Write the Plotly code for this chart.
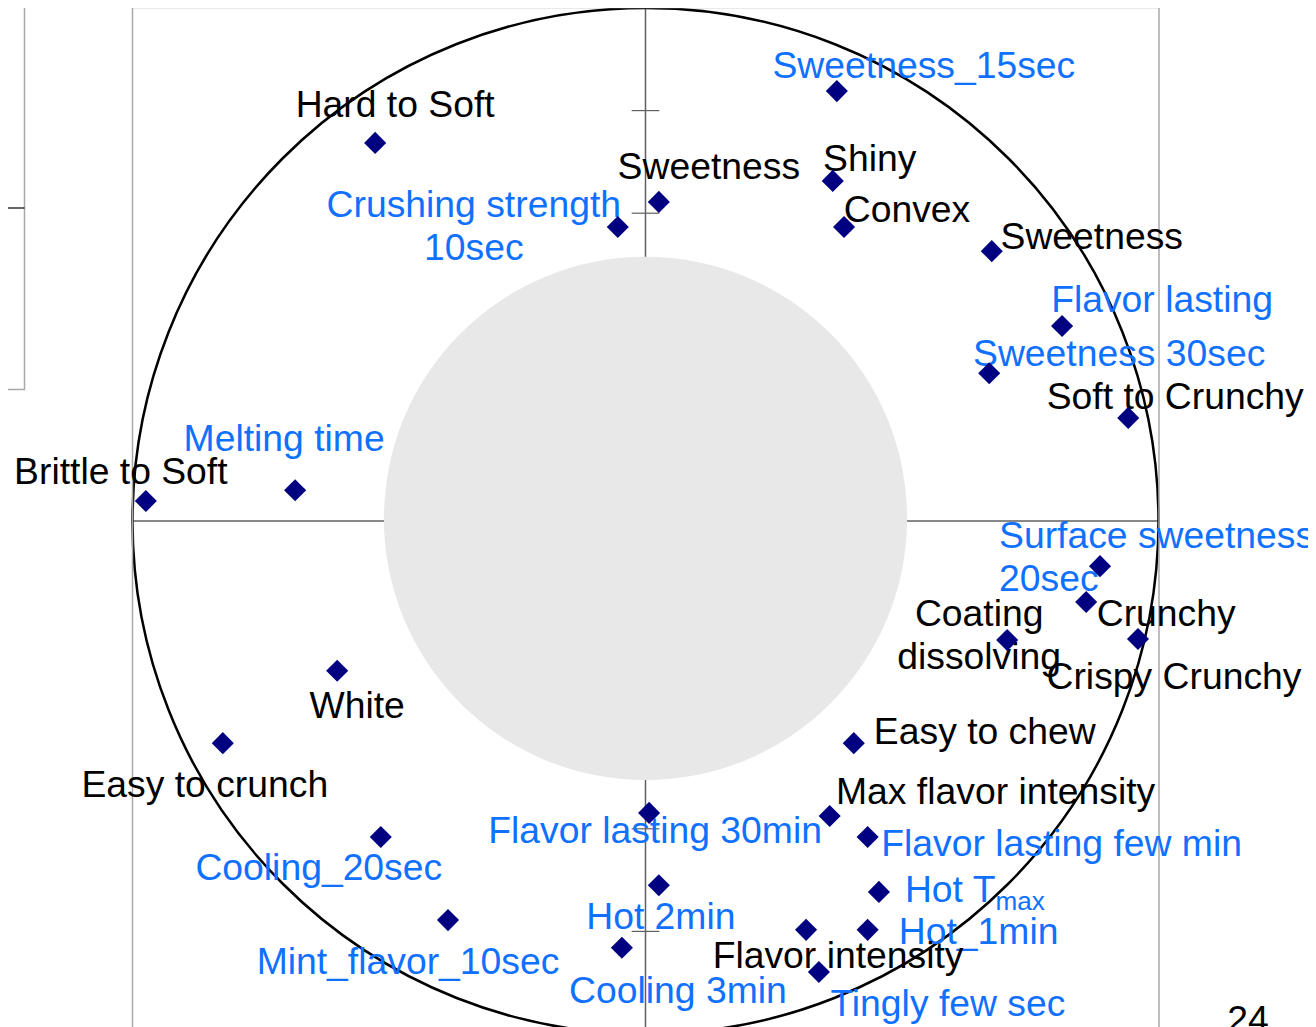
import plotly.graph_objects as go

# ---------------- data ----------------
labels = [
    "Sweetness_15sec", "Hard to Soft", "Sweetness", "Shiny", "Convex",
    "Crushing strength<br>10sec", "Sweetness", "Flavor lasting", "Sweetness 30sec",
    "Soft to Crunchy", "Melting time", "Brittle to Soft", "Surface sweetness<br>20sec",
    "Crunchy", "Coating<br>dissolving", "Crispy Crunchy", "White", "Easy to chew",
    "Easy to crunch", "Max flavor intensity", "Flavor lasting 30min",
    "Flavor lasting few min", "Cooling_20sec", "Hot T<sub>max</sub>", "Hot 2min",
    "Mint_flavor_10sec", "Hot_1min", "Flavor intensity", "Cooling 3min", "Tingly few sec",
]
dim1 = [0.373, -0.527, 0.026, 0.365, 0.387, -0.054, 0.675, 0.812, 0.670, 0.941,
        -0.683, -0.974, 0.886, 0.859, 0.705, 0.960, -0.601, 0.406, -0.824, 0.359,
        0.007, 0.433, -0.516, 0.455, 0.026, -0.385, 0.433, 0.313, -0.046, 0.338]
dim2 = [0.838, 0.737, 0.622, 0.663, 0.573, 0.573, 0.526, 0.380, 0.288, 0.201,
        0.060, 0.039, -0.088, -0.158, -0.232, -0.230, -0.292, -0.433, -0.433, -0.575,
        -0.569, -0.616, -0.616, -0.723, -0.710, -0.778, -0.797, -0.797, -0.832, -0.879]
# group: 1 = time-intensity attribute (blue), 0 = descriptive attribute (black)
group = [1, 0, 0, 0, 0, 1, 0, 1, 1, 0, 1, 0, 1, 0, 0, 0, 0, 0, 0, 0,
         1, 1, 1, 1, 1, 1, 1, 0, 1, 1]
y_ticks = [-0.8, -0.6, 0.6, 0.8]
page_number = "24"

# ---------------- styling / label placement (pixels) ----------------
PX = 513.0      # pixels per unit
BODY = 8        # default page margin of the html body
FIG_W, FIG_H = 1316 - BODY, 1027 - BODY
CX, CY = 645.5, 521.0   # page pixel of the origin

label_dx = [87, 20, 50, 37, 63, -144, 100, 100, 130, 47, -11, -25, -101, 80, -28, 36, 20, 131,
            -18, 166, 6, 194, -62, 26, 2, -40, 111, 32, 56, 129]
label_dy = [-26, -39, -36, -23, -18, -1, -15, -27, -20, -22, -52, -30, -9.5, 11, -5.5, 37, 34, -12,
            41, -25, 17, 6, 30, -3, 31, 41, 1, 25, 42, 31]
DY_FIX = 3.5
LINE_GAP = 43.0
left_anchored = {12, 23}

BLUE = "#1070ff"
NAVY = "#000080"
FONT = "Liberation Sans, Arial, sans-serif"
FS = 37.3

# split multi-line labels into single lines with the reference line spacing
tx, ty, ttext, tpos, tcol = [], [], [], [], []
for i, lab in enumerate(labels):
    lines = lab.split("<br>")
    n = len(lines)
    for k, line in enumerate(lines):
        off = (k - (n - 1) / 2) * LINE_GAP
        tx.append(dim1[i] + label_dx[i] / PX)
        ty.append(dim2[i] - (label_dy[i] + DY_FIX + off) / PX)
        ttext.append(line)
        tpos.append("middle right" if i in left_anchored else "middle center")
        tcol.append(BLUE if group[i] else "black")


def px2x(p):
    return (p - CX) / PX


def px2y(p):
    return (CY - p) / PX


x_range = [px2x(BODY), px2x(BODY + FIG_W)]
y_range = [px2y(BODY + FIG_H), px2y(BODY)]

fig = go.Figure()
fig.add_trace(go.Scatter(
    x=tx, y=ty, mode="text", text=ttext, textposition=tpos,
    textfont=dict(family=FONT, size=FS, color=tcol),
    cliponaxis=False, hoverinfo="skip", showlegend=False,
))
fig.add_trace(go.Scatter(
    x=dim1, y=dim2, mode="markers",
    marker=dict(symbol="diamond", size=17, color=NAVY, line=dict(width=0)),
    cliponaxis=False, showlegend=False,
))
# page number
fig.add_trace(go.Scatter(
    x=[px2x(1248)], y=[px2y(1023)], mode="text", text=[page_number],
    textposition="middle center", textfont=dict(family=FONT, size=FS, color="black"),
    cliponaxis=False, hoverinfo="skip", showlegend=False,
))

FR_L, FR_R, FR_T = px2x(132.5), px2x(1159), px2y(7.5)
AX = "#606060"
shapes = []
# axis lines through origin
shapes.append(dict(type="line", xref="x", yref="y", x0=0, x1=0, y0=-1.2, y1=FR_T,
                   line=dict(color=AX, width=1.5), layer="below"))
shapes.append(dict(type="line", xref="x", yref="y", x0=FR_L, x1=FR_R, y0=0, y1=0,
                   line=dict(color=AX, width=1.5), layer="below"))
for t in y_ticks:
    shapes.append(dict(type="line", xref="x", yref="y", x0=-0.027, x1=0.027, y0=t, y1=t,
                       line=dict(color=AX, width=1.2), layer="below"))
# inner grey disk
shapes.append(dict(type="circle", xref="x", yref="y", x0=-0.51, x1=0.51, y0=-0.505, y1=0.515,
                   fillcolor="#e8e8e8", line=dict(width=0), layer="below"))
# unit circle
shapes.append(dict(type="circle", xref="x", yref="y", x0=-1, x1=1, y0=-1, y1=1,
                   line=dict(color="black", width=2.5), layer="below"))
# frame (left, top, right)
shapes.append(dict(type="rect", xref="x", yref="y", x0=FR_L, x1=FR_R, y0=-1.3, y1=FR_T,
                   line=dict(color="#a8a8a8", width=1.5), layer="below"))
# leftover panel on the far left
shapes.append(dict(type="rect", xref="x", yref="y", x0=px2x(-5), x1=px2x(24.5),
                   y0=px2y(389.5), y1=px2y(-5), line=dict(color="#a8a8a8", width=1.5),
                   layer="below"))
shapes.append(dict(type="line", xref="x", yref="y", x0=px2x(-5), x1=px2x(24.5),
                   y0=px2y(208), y1=px2y(208), line=dict(color="black", width=1.2),
                   layer="below"))

fig.update_layout(
    width=FIG_W, height=FIG_H,
    margin=dict(l=0, r=0, t=0, b=0, pad=0),
    plot_bgcolor="white", paper_bgcolor="white",
    xaxis=dict(range=x_range, visible=False, showgrid=False, zeroline=False),
    yaxis=dict(range=y_range, visible=False, showgrid=False, zeroline=False),
    shapes=shapes,
    font=dict(family=FONT),
)

fig.write_html("out.html")
